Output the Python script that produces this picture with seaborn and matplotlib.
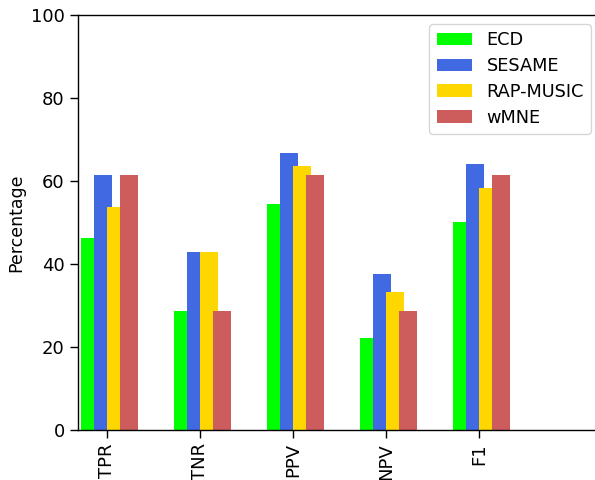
import matplotlib
matplotlib.use("Agg")
import matplotlib.pyplot as plt
import seaborn as sns
import numpy as np

# Metric names along the x axis
metrics = ["TPR", "TNR", "PPV", "NPV", "F1"]

# Scores (percent) for each method
ecd = [46.2, 28.6, 54.5, 22.2, 50.0]
sesame = [61.5, 42.9, 66.7, 37.5, 64.0]
rap_music = [53.8, 42.9, 63.6, 33.3, 58.3]
wmne = [61.5, 28.6, 61.5, 28.6, 61.5]

methods = ["ECD", "SESAME", "RAP-MUSIC", "wMNE"]
colors = ["#00FF00", "#4169E1", "#FFD700", "#CD5C5C"]
series = [ecd, sesame, rap_music, wmne]

sns.set_style("ticks")
plt.rcParams["font.family"] = ["DejaVu Sans"]
plt.rcParams.update({
    "text.color": "black",
    "axes.labelcolor": "black",
    "xtick.color": "black",
    "ytick.color": "black",
    "axes.edgecolor": "black",
})

fig = plt.figure(figsize=(5.95, 4.8), dpi=100)
ax = fig.add_axes([0.131, 0.104, 0.869, 0.865])

step = 0.14      # shift between neighbouring bars (bars overlap slightly)
bar_w = 0.2
base = np.arange(len(metrics))
for i, (name, vals, col) in enumerate(zip(methods, series, colors)):
    centers = base + (i - 2) * step + bar_w / 2
    sns.barplot(x=centers, y=vals, native_scale=True, width=bar_w,
                color=col, saturation=1, linewidth=0, label=name, ax=ax)

ax.set_xlim(-0.31, 5.25)
ax.set_ylim(0, 100)
ax.set_xticks(base)
ax.set_xticklabels(metrics, rotation=90)
ax.set_yticks([0, 20, 40, 60, 80, 100])
ax.set_ylabel("Percentage", fontsize=12.5)
ax.set_xlabel("")
ax.tick_params(axis="both", labelsize=13, length=6, width=1, direction="out")
for side in ["left", "bottom", "top"]:
    ax.spines[side].set_visible(True)
    ax.spines[side].set_linewidth(1)
    ax.spines[side].set_color("black")
ax.spines["right"].set_visible(False)

ax.legend(loc="upper right", bbox_to_anchor=(0.992, 0.978), borderaxespad=0,
          fontsize=12.8, labelspacing=0.44, frameon=True)

fig.savefig("out.png", dpi=100)
